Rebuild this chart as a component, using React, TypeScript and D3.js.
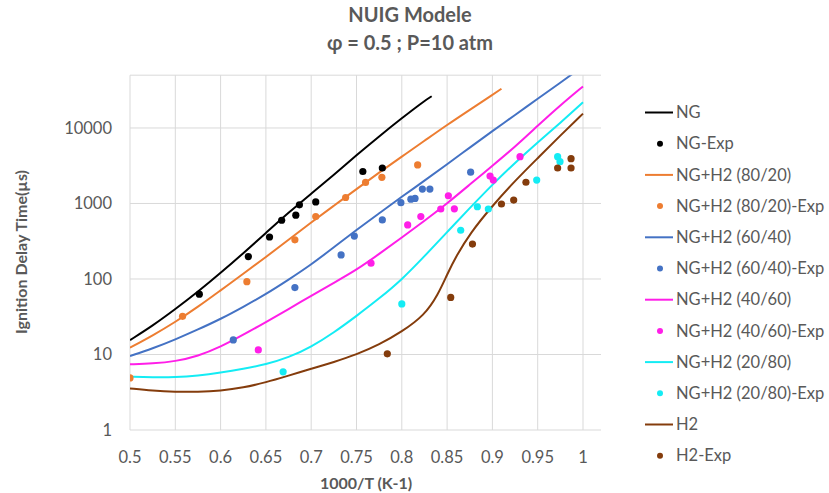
import React from "react";
import * as d3 from "d3";

const W = 829;
const H = 493;

// Title texts
const TITLE_1 = "NUIG Modele";
const TITLE_2 = "φ = 0.5 ; P=10 atm";
const X_TITLE = "1000/T (K-1)";
const Y_TITLE = "Ignition Delay Time(µs)";

// Axis ticks
const X_TICKS = [0.5, 0.55, 0.6, 0.65, 0.7, 0.75, 0.8, 0.85, 0.9, 0.95, 1.0];
const X_TICK_LABELS = ["0.5", "0.55", "0.6", "0.65", "0.7", "0.75", "0.8", "0.85", "0.9", "0.95", "1"];
const Y_TICKS = [1, 10, 100, 1000, 10000];
const Y_TICK_LABELS = ["1", "10", "100", "1000", "10000"];

// Model curves (x = 1000/T, y = ignition delay in µs)
const NG_X = [0.5, 0.525, 0.55, 0.575, 0.6, 0.625, 0.65, 0.675, 0.7, 0.725, 0.75, 0.775, 0.8, 0.825, 0.833];
const NG_Y = [15.5, 24, 39.8, 67.6, 120, 219, 407, 759, 1350, 2400, 4370, 7760, 13500, 22900, 26300];

const NG80_X = [0.5, 0.525, 0.55, 0.575, 0.6, 0.625, 0.65, 0.675, 0.7, 0.725, 0.75, 0.775, 0.8, 0.825, 0.85, 0.875, 0.9, 0.91];
const NG80_Y = [12.3, 17.8, 26.9, 42.7, 70.8, 117, 195, 331, 562, 933, 1550, 2570, 4170, 6760, 11000, 17400, 27500, 33100];

const NG60_X = [0.5, 0.525, 0.55, 0.575, 0.6, 0.625, 0.65, 0.675, 0.7, 0.725, 0.75, 0.775, 0.8, 0.825, 0.85, 0.875, 0.9, 0.925, 0.95, 0.975, 0.99];
const NG60_Y = [9.55, 12, 15.8, 21.4, 29.5, 42.7, 63, 98, 155, 263, 447, 741, 1230, 2000, 3310, 5500, 9120, 14800, 24500, 39800, 53700];

const NG40_X = [0.5, 0.525, 0.55, 0.575, 0.6, 0.625, 0.65, 0.675, 0.7, 0.725, 0.75, 0.775, 0.8, 0.825, 0.85, 0.875, 0.9, 0.925, 0.95, 0.975, 1.0];
const NG40_Y = [7.4, 7.6, 8.1, 9.5, 12.6, 18.2, 26.9, 39.8, 60, 89, 132, 214, 355, 589, 1000, 1780, 3160, 5620, 10700, 20000, 35500];

const NG20_X = [0.5, 0.525, 0.55, 0.575, 0.6, 0.625, 0.65, 0.675, 0.7, 0.725, 0.75, 0.775, 0.8, 0.825, 0.85, 0.875, 0.9, 0.925, 0.95, 0.975, 1.0];
const NG20_Y = [5.08, 5.0, 5.0, 5.25, 5.75, 6.45, 7.4, 9.1, 12.6, 19.5, 32.4, 55, 98, 200, 417, 871, 1780, 3470, 6460, 11700, 21900];

const H2_X = [0.5, 0.525, 0.55, 0.575, 0.6, 0.625, 0.65, 0.675, 0.7, 0.725, 0.75, 0.775, 0.8, 0.825, 0.84, 0.85, 0.86, 0.875, 0.9, 0.925, 0.95, 0.975, 1.0];
const H2_Y = [3.55, 3.31, 3.2, 3.2, 3.31, 3.63, 4.27, 5.25, 6.46, 7.94, 10, 13.5, 20, 33, 62, 115, 200, 398, 933, 2000, 3980, 7940, 15500];

// Experimental points
const NG_EXP_X = [0.5765, 0.6306, 0.654, 0.6674, 0.683, 0.687, 0.705, 0.757, 0.7785];
const NG_EXP_Y = [63, 198, 360, 600, 700, 960, 1050, 2650, 2950];

const NG80_EXP_X = [0.5, 0.558, 0.629, 0.682, 0.705, 0.738, 0.76, 0.778, 0.8175];
const NG80_EXP_Y = [4.9, 32, 92, 330, 670, 1200, 1900, 2220, 3240];

const NG60_EXP_X = [0.614, 0.682, 0.733, 0.7476, 0.7785, 0.799, 0.81, 0.8146, 0.8227, 0.831, 0.876];
const NG60_EXP_Y = [15.6, 77, 208, 370, 605, 1025, 1140, 1165, 1550, 1550, 2600];

const NG40_EXP_X = [0.6416, 0.766, 0.8065, 0.821, 0.843, 0.8514, 0.858, 0.8974, 0.901, 0.9305];
const NG40_EXP_Y = [11.5, 162, 520, 670, 845, 1265, 850, 2310, 2040, 4170];

const NG20_EXP_X = [0.669, 0.8, 0.865, 0.8834, 0.8955, 0.9489, 0.972, 0.9746];
const NG20_EXP_Y = [5.9, 46.7, 442, 905, 845, 2040, 4170, 3580];

const H2_EXP_X = [0.784, 0.854, 0.878, 0.91, 0.9235, 0.937, 0.972, 0.9868, 0.9868];
const H2_EXP_Y = [10.2, 57, 290, 985, 1110, 1910, 2950, 2950, 3920];

const COLORS = {
  ng: "#000000",
  ng80: "#ED7D31",
  ng60: "#4472C4",
  ng40: "#FF1EE8",
  ng20: "#14ECF4",
  h2: "#843C0C",
};

const LINES = [
  { name: "NG", xs: NG_X, ys: NG_Y, color: COLORS.ng },
  { name: "NG+H2 (80/20)", xs: NG80_X, ys: NG80_Y, color: COLORS.ng80 },
  { name: "NG+H2 (60/40)", xs: NG60_X, ys: NG60_Y, color: COLORS.ng60 },
  { name: "NG+H2 (40/60)", xs: NG40_X, ys: NG40_Y, color: COLORS.ng40 },
  { name: "NG+H2 (20/80)", xs: NG20_X, ys: NG20_Y, color: COLORS.ng20 },
  { name: "H2", xs: H2_X, ys: H2_Y, color: COLORS.h2 },
];

const POINTS = [
  { name: "NG-Exp", xs: NG_EXP_X, ys: NG_EXP_Y, color: COLORS.ng },
  { name: "NG+H2 (80/20)-Exp", xs: NG80_EXP_X, ys: NG80_EXP_Y, color: COLORS.ng80 },
  { name: "NG+H2 (60/40)-Exp", xs: NG60_EXP_X, ys: NG60_EXP_Y, color: COLORS.ng60 },
  { name: "NG+H2 (40/60)-Exp", xs: NG40_EXP_X, ys: NG40_EXP_Y, color: COLORS.ng40 },
  { name: "NG+H2 (20/80)-Exp", xs: NG20_EXP_X, ys: NG20_EXP_Y, color: COLORS.ng20 },
  { name: "H2-Exp", xs: H2_EXP_X, ys: H2_EXP_Y, color: COLORS.h2 },
];

const FONT = "Lato, 'Open Sans', sans-serif";
const TEXT = "#595959";
const GRID = "#D9D9D9";

export default function App() {
  const left = 130;
  const right = 601;
  const top = 75.2;
  const bottom = 430;

  const x = d3.scaleLinear().domain([0.5, 1.02]).range([left, left + 0.52 * 906]);
  const y = d3.scaleLog().domain([1, 50000]).range([bottom, top]);

  const line = d3
    .line<[number, number]>()
    .x((d) => x(d[0]))
    .y((d) => y(d[1]))
    .curve(d3.curveBasis);

  const legendItems: { name: string; color: string; kind: "line" | "dot" }[] = [];
  LINES.forEach((l, i) => {
    legendItems.push({ name: l.name, color: l.color, kind: "line" });
    legendItems.push({ name: POINTS[i].name, color: POINTS[i].color, kind: "dot" });
  });

  return (
    <svg
      width={W}
      height={H}
      style={{ position: "absolute", left: 0, top: 0, background: "#fff" }}
      fontFamily={FONT}
    >
      <defs>
        <clipPath id="plotClip">
          <rect x={left} y={top} width={right - left} height={bottom - top} />
        </clipPath>
      </defs>
      <rect width={W} height={H} fill="#fff" />

      {/* Titles */}
      <text x={410} y={22} textAnchor="middle" fontSize={20} fontWeight="bold" fill={TEXT}>
        {TITLE_1}
      </text>
      <text x={410} y={50} textAnchor="middle" fontSize={20} fontWeight="bold" fill={TEXT}>
        {TITLE_2}
      </text>

      {/* Grid */}
      <line x1={left} x2={right} y1={top} y2={top} stroke={GRID} strokeWidth={1} />
      {Y_TICKS.map((t) => (
        <line key={"gy" + t} x1={left} x2={right} y1={y(t)} y2={y(t)} stroke={GRID} strokeWidth={1} />
      ))}
      {X_TICKS.map((t) => (
        <line key={"gx" + t} x1={x(t)} x2={x(t)} y1={top} y2={bottom} stroke={GRID} strokeWidth={1} />
      ))}

      {/* Tick labels */}
      {Y_TICKS.map((t, i) => (
        <text key={"ty" + t} x={112} y={y(t)} dy="0.35em" textAnchor="end" fontSize={16.5} fill={TEXT}>
          {Y_TICK_LABELS[i]}
        </text>
      ))}
      {X_TICKS.map((t, i) => (
        <text key={"tx" + t} x={x(t)} y={463} textAnchor="middle" fontSize={16.5} fill={TEXT}>
          {X_TICK_LABELS[i]}
        </text>
      ))}

      {/* Axis titles */}
      <text x={366} y={489} textAnchor="middle" fontSize={16} fontWeight="bold" fill={TEXT}>
        {X_TITLE}
      </text>
      <text
        transform={`translate(27, 252) rotate(-90)`}
        textAnchor="middle"
        fontSize={16}
        fontWeight="bold"
        fill={TEXT}
      >
        {Y_TITLE}
      </text>

      {/* Series */}
      <g clipPath="url(#plotClip)">
        {LINES.map((l) => (
          <path
            key={l.name}
            d={line(l.xs.map((v, i) => [v, l.ys[i]] as [number, number])) || ""}
            fill="none"
            stroke={l.color}
            strokeWidth={2}
          />
        ))}
        {POINTS.map((p) =>
          p.xs.map((v, i) => (
            <circle key={p.name + i} cx={x(v)} cy={y(p.ys[i])} r={3.6} fill={p.color} />
          ))
        )}
      </g>

      {/* Legend */}
      {legendItems.map((it, i) => {
        const cy = 112.5 + i * 31.2;
        return (
          <g key={it.name}>
            {it.kind === "line" ? (
              <line x1={645} x2={673} y1={cy} y2={cy} stroke={it.color} strokeWidth={2} />
            ) : (
              <circle cx={660} cy={cy} r={3} fill={it.color} />
            )}
            <text x={676} y={cy} dy="0.35em" fontSize={16.5} fill={TEXT}>
              {it.name}
            </text>
          </g>
        );
      })}
    </svg>
  );
}
